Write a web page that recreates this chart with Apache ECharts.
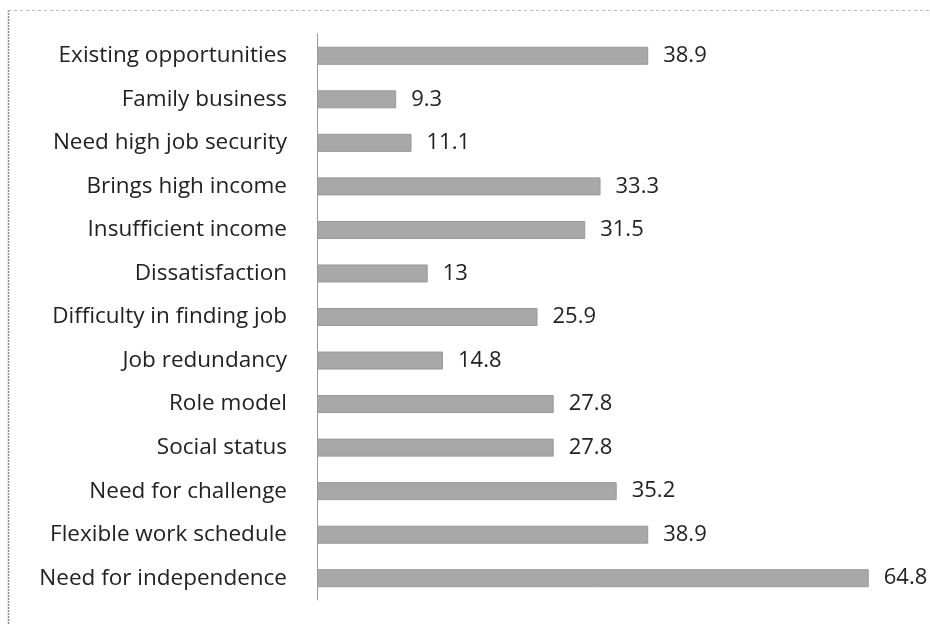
<!DOCTYPE html>
<html><head><meta charset="utf-8">
<script src="https://cdn.jsdelivr.net/npm/echarts@6/dist/echarts.min.js"></script>
<style>html,body{margin:0;padding:0;background:#fff}#c{width:930px;height:625px}</style>
</head><body><div id="c"></div>
<script>
const categories = ["Existing opportunities","Family business","Need high job security","Brings high income","Insufficient income","Dissatisfaction","Difficulty in finding job","Job redundancy","Role model","Social status","Need for challenge","Flexible work schedule","Need for independence"];
const values = [38.9, 9.3, 11.1, 33.3, 31.5, 13, 25.9, 14.8, 27.8, 27.8, 35.2, 38.9, 64.8];
const font = "Open Sans";
const chart = echarts.init(document.getElementById('c'));
chart.setOption({
  animation: false,
  graphic: [
    {type:'line', shape:{x1:8.5,y1:10,x2:8.5,y2:625}, style:{stroke:'#888', lineWidth:1.5, lineDash:[2,1]}},
    {type:'line', shape:{x1:8,y1:10.5,x2:930,y2:10.5}, style:{stroke:'#bbb', lineWidth:1, lineDash:[3,3]}}
  ],
  grid: {left: 317, right: 17, top: 34, bottom: 25, containLabel: false},
  xAxis: {type:'value', min:0, max:70, show:false},
  yAxis: {type:'category', data:categories, inverse:true,
    axisLine:{show:true, lineStyle:{color:'#999', width:1}},
    axisTick:{show:false},
    axisLabel:{margin:30, color:'#222', fontFamily:font, fontSize:22.5}},
  series: [{type:'bar', data:values, barWidth:18,
    itemStyle:{color:'#a8a8a8', borderColor:'#999', borderWidth:1},
    label:{show:true, position:'right', distance:15, color:'#222', fontFamily:font, fontSize:22}}]
});
</script></body></html>
